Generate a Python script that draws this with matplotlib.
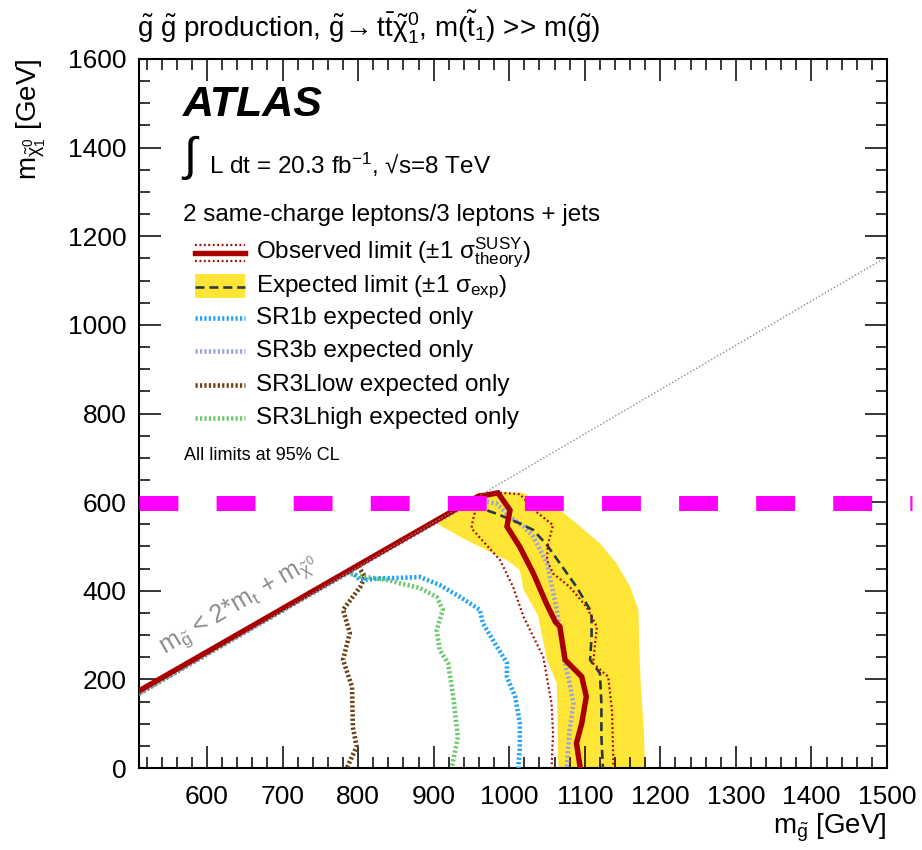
import matplotlib
matplotlib.use("Agg")
import matplotlib.pyplot as plt
from matplotlib.lines import Line2D
from matplotlib.patches import Rectangle
from matplotlib.ticker import MultipleLocator

# ---- data (GeV) ----
obs_x = [510, 960, 970, 985, 1001, 997, 1014, 1032, 1049, 1061, 1067, 1074, 1096, 1102, 1096, 1089, 1094]
obs_y = [174, 614, 616, 621, 582, 545, 499, 439, 372, 330, 319, 244, 206, 161, 101, 56, 0]

th_up_x = [510, 960, 988, 1014, 1036, 1058, 1051, 1050, 1058, 1080, 1102, 1116, 1111, 1131, 1136, 1138]
th_up_y = [172, 612, 621, 618, 578, 548, 503, 469, 439, 409, 364, 319, 236, 206, 131, 0]

th_dn_x = [510, 960, 952, 950, 970, 988, 1005, 1019, 1045, 1056, 1058, 1056]
th_dn_y = [170, 612, 560, 541, 503, 469, 409, 341, 251, 146, 78, 0]

exp_x = [510, 952, 966, 983, 1014, 1032, 1050, 1067, 1089, 1107, 1109, 1109, 1107, 1120, 1122, 1122, 1124]
exp_y = [172, 604, 584, 574, 552, 537, 503, 462, 409, 357, 341, 296, 244, 214, 146, 71, 0]

band_x = [900, 985, 1018, 1067, 1094, 1120, 1142, 1160, 1171, 1172, 1174, 1178, 1180,
          1065, 1063, 1050, 1038, 1019, 1014, 997, 970, 939, 908]
band_y = [558, 622, 621, 582, 545, 507, 462, 409, 357, 281, 191, 86, 0,
          0, 191, 244, 345, 402, 447, 469, 492, 518, 548]

sr1b_x = [510, 790, 803, 830, 855, 882, 908, 935, 961, 965, 984, 997, 997, 1008, 1014, 1014, 1012]
sr1b_y = [170, 444, 424, 428, 429, 431, 413, 386, 357, 327, 273, 237, 205, 160, 102, 47, 0]

sr3b_x = [510, 958, 970, 983, 1001, 1019, 1032, 1050, 1063, 1067, 1072, 1080, 1085, 1080, 1076]
sr3b_y = [171, 608, 601, 597, 567, 545, 522, 462, 357, 311, 251, 191, 146, 86, 0]

sr3llow_x = [510, 800, 809, 803, 780, 789, 780, 792, 793, 798, 785]
sr3llow_y = [168, 455, 432, 409, 357, 305, 244, 183, 93, 48, 0]

sr3lhigh_x = [510, 785, 806, 840, 855, 882, 904, 912, 904, 908, 919, 926, 932, 924]
sr3lhigh_y = [168, 440, 432, 424, 417, 406, 386, 357, 311, 266, 237, 160, 70, 0]

kin_x = [510, 1500]
kin_y = [164, 1154]

mag_x = [510, 1533]
mag_y = [598, 598]

legend_labels = [
    r"Observed limit ($\pm1\ \sigma^{\rm SUSY}_{\rm theory}$)",
    r"Expected limit ($\pm1\ \sigma_{\rm exp}$)",
    "SR1b expected only",
    "SR3b expected only",
    "SR3Llow expected only",
    "SR3Lhigh expected only",
]

# ---- style ----
RED = "#a80000"
EXPC = "#2a3a44"
YEL = "#ffe535"
BLUE = "#22a4f5"
LAV = "#9ea4d6"
BROWN = "#6e3f14"
GREEN = "#6cc86c"

plt.rcParams.update({
    "font.family": ["Liberation Sans", "DejaVu Sans"],
    "mathtext.fontset": "custom",
    "mathtext.rm": "Liberation Sans",
    "mathtext.it": "Liberation Sans:italic",
    "mathtext.bf": "Liberation Sans:bold",
    "mathtext.sf": "Liberation Sans",
    "mathtext.default": "regular",
    "lines.scale_dashes": False,
})

fig = plt.figure(figsize=(9.22, 8.5), dpi=100)
ax = fig.add_axes([139 / 922, 82 / 850, 748 / 922, 709 / 850])
ax.set_xlim(510, 1500)
ax.set_ylim(0, 1600)

ax.fill(band_x, band_y, color=YEL, lw=0, zorder=1)

dot_thick = dict(lw=3.3, dashes=(1.6, 1.6), dash_capstyle="butt", zorder=3)
ax.plot(sr3llow_x, sr3llow_y, color=BROWN, **dot_thick)
ax.plot(sr3lhigh_x, sr3lhigh_y, color=GREEN, **dot_thick)
ax.plot(sr1b_x, sr1b_y, color=BLUE, **dot_thick)
ax.plot(sr3b_x, sr3b_y, color=LAV, **dot_thick)
ax.plot(exp_x, exp_y, color=EXPC, lw=1.9, dashes=(6.5, 3.5), zorder=4)
ax.plot(th_up_x, th_up_y, color=RED, lw=1.6, dashes=(1.3, 1.9), zorder=5)
ax.plot(th_dn_x, th_dn_y, color=RED, lw=1.6, dashes=(1.3, 1.9), zorder=5)
ax.plot(obs_x, obs_y, color=RED, lw=3.9, solid_joinstyle="miter", zorder=6)
ax.plot(kin_x, kin_y, color="#8a8a8a", lw=1.0, dashes=(1.0, 1.5), zorder=7)
ax.plot(mag_x, mag_y, color="#ff00ff", lw=10.8, dashes=(28, 27.5),
        dash_capstyle="butt", clip_on=False, zorder=8)

ax.text(543, 258, r"m$_{\tilde{g}}$ < 2*m$_{t}$ + m$_{\tilde{\chi}^{0}}$", color="#8a8a8a",
        fontsize=18, rotation=30.4, rotation_mode="anchor", ha="left", va="baseline", zorder=9)

# ---- axes ----
ax.xaxis.set_major_locator(MultipleLocator(100))
ax.xaxis.set_minor_locator(MultipleLocator(20))
ax.yaxis.set_major_locator(MultipleLocator(200))
ax.yaxis.set_minor_locator(MultipleLocator(50))
ax.tick_params(which="both", direction="in", top=True, right=True, width=1.1, labelsize=19)
ax.tick_params(which="major", length=15.8)
ax.tick_params(which="minor", length=7.9)
ax.tick_params(axis="x", pad=12)
ax.tick_params(axis="y", pad=9)
for s in ax.spines.values():
    s.set_linewidth(1.5)

ax.set_xlabel(r"m$_{\tilde{g}}$ [GeV]", fontsize=20, loc="right")
ax.xaxis.set_label_coords(1.0, -0.062)
ax.set_ylabel(r"m$_{\tilde{\chi}^{0}_{1}}$ [GeV]", fontsize=20, loc="top")
ax.yaxis.set_label_coords(-0.122, 1.0)

fig.text(137 / 922, 1 - 37 / 850,
         r"$\tilde{g}\ \tilde{g}$ production, $\tilde{g}\!\rightarrow t\bar{t}\tilde{\chi}^{0}_{1}$, m($\tilde{t}_{1}$) >> m($\tilde{g}$)",
         fontsize=20, ha="left", va="baseline")

# ---- annotations / legend ----
def fx(px):
    return (px - 139) / 748


def fy(py):
    return (768 - py) / 709


T = ax.transAxes
ax.text(fx(183), fy(105), "ATLAS", transform=T, fontsize=31, fontweight="bold",
        fontstyle="italic", ha="left", va="center")
ax.text(fx(183), fy(158), "\u222b", transform=T, fontsize=34, ha="left", va="center")
ax.text(fx(209), fy(165), "L dt = 20.3 fb$^{-1}$, \u221as=8 TeV", transform=T,
        fontsize=17.5, ha="left", va="center")
ax.text(fx(183), fy(215), "2 same-charge leptons/3 leptons + jets", transform=T,
        fontsize=17.5, ha="left", va="center")

rows = [253, 287, 318, 351, 385, 418]
x0, x1 = fx(195), fx(245)
ax.add_line(Line2D([x0, x1], [fy(253)] * 2, transform=T, color=RED, lw=3.9))
for dy in (-8, 8):
    ax.add_line(Line2D([x0, x1], [fy(253 + dy)] * 2, transform=T, color=RED, lw=1.6,
                       dashes=(1.3, 1.9)))
ax.add_patch(Rectangle((x0, fy(298)), x1 - x0, fy(274) - fy(298), transform=T,
                       color=YEL, lw=0))
ax.add_line(Line2D([x0, x1], [fy(287)] * 2, transform=T, color=EXPC, lw=1.9, dashes=(6.5, 3.5)))
for py, c in zip(rows[2:], [BLUE, LAV, BROWN, GREEN]):
    ax.add_line(Line2D([x0, x1], [fy(py)] * 2, transform=T, color=c, lw=3.3,
                       dashes=(1.6, 1.6), dash_capstyle="butt"))
for py, lab in zip(rows, legend_labels):
    ax.text(fx(256), fy(py), lab, transform=T, fontsize=17.5, ha="left", va="center")

ax.text(fx(184), fy(455), "All limits at 95% CL", transform=T, fontsize=13,
        ha="left", va="center")

fig.savefig("out.png", dpi=100, facecolor="white")
